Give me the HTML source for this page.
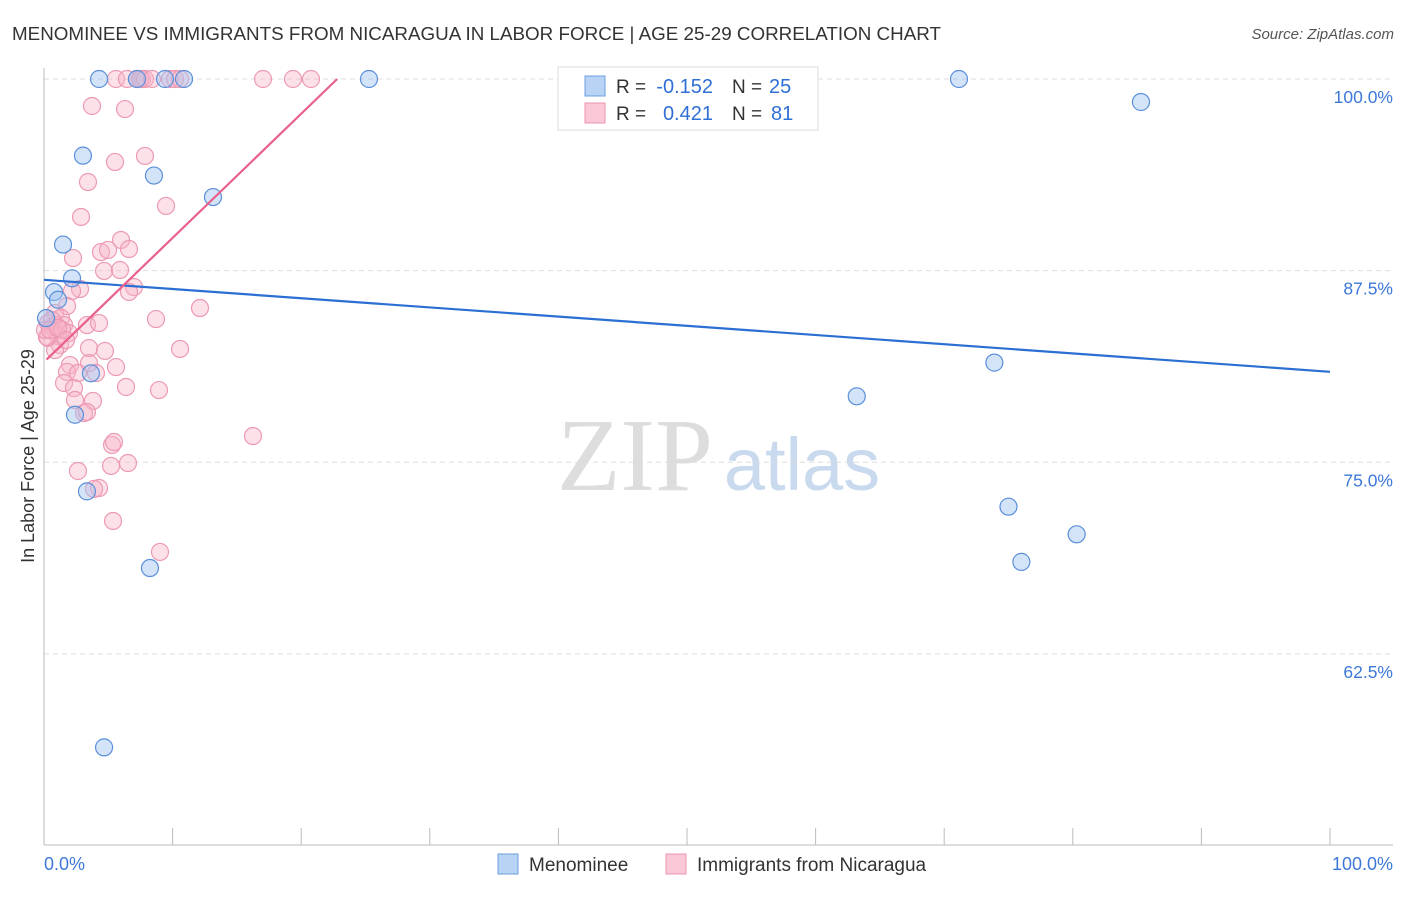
<!DOCTYPE html>
<html><head><meta charset="utf-8"><style>
body{margin:0;background:#fff;font-family:"Liberation Sans",sans-serif;}
</style></head><body>
<svg id="c" width="1406" height="892" xmlns="http://www.w3.org/2000/svg" font-family="Liberation Sans, sans-serif">
<text x="12" y="40" font-size="18" fill="#333" textLength="929" lengthAdjust="spacingAndGlyphs">MENOMINEE VS IMMIGRANTS FROM NICARAGUA IN LABOR FORCE | AGE 25-29 CORRELATION CHART</text>
<text x="1394" y="39" font-size="15" fill="#555" text-anchor="end" font-style="italic">Source: ZipAtlas.com</text>
<text x="34" y="456" font-size="18" fill="#333" text-anchor="middle" transform="rotate(-90 34 456)">In Labor Force | Age 25-29</text>
<g><text x="635" y="490" font-size="104" fill="#ddd" text-anchor="middle" font-family="Liberation Serif, serif">ZIP</text><text x="802" y="490" font-size="74" fill="#c9d9ee" text-anchor="middle">atlas</text></g>
<g id="grid"></g><g id="marks"></g>
<g>
<rect x="558" y="67" width="260" height="63" fill="#fff" stroke="#ddd"/>
<rect x="585" y="76" width="20" height="20" fill="#b9d3f5" stroke="#6d9fe0"/>
<rect x="585" y="103" width="20" height="20" fill="#fbc8d8" stroke="#ee94b0"/>
<text x="616" y="93" font-size="19" fill="#333">R =</text>
<text x="713" y="93" font-size="20" fill="#2f6fd6" text-anchor="end">-0.152</text>
<text x="732" y="93" font-size="19" fill="#333">N =</text>
<text x="769" y="93" font-size="20" fill="#2f6fd6">25</text>
<text x="616" y="120" font-size="19" fill="#333">R =</text>
<text x="713" y="120" font-size="20" fill="#2f6fd6" text-anchor="end">0.421</text>
<text x="732" y="120" font-size="19" fill="#333">N =</text>
<text x="771" y="120" font-size="20" fill="#2f6fd6">81</text>
</g>
<g>
<rect x="498" y="854" width="20" height="20" fill="#b9d3f5" stroke="#6d9fe0"/>
<text x="529" y="871" font-size="19" fill="#333">Menominee</text>
<rect x="666" y="854" width="20" height="20" fill="#fbc8d8" stroke="#ee94b0"/>
<text x="697" y="871" font-size="19" fill="#333">Immigrants from Nicaragua</text>
</g>
</svg>
<script>
const yTicks=[100,87.5,75,62.5];
const yTickLabels=["100.0%","87.5%","75.0%","62.5%"];
const xEndLabels=["0.0%","100.0%"];
const blueX=[4.28,7.23,9.41,10.89,25.27,71.15,85.3,3.03,8.55,13.14,1.48,2.18,0.78,1.09,3.65,2.41,3.34,8.24,4.67,63.2,73.9,75.0,80.3,76.0,0.16];
const blueY=[100,100,100,100,100,100,98.5,95.0,93.7,92.3,89.2,87.0,86.1,85.6,80.8,78.1,73.1,68.1,56.4,79.3,81.5,72.1,70.3,68.5,84.4];
const pinkPx=[[116,79],[127,79],[142,79],[137,79],[140,79],[145,79],[152,79],[170,79],[175,79],[180,79],[263,79],[293,79],[311,79],[92,106],[125,109],[115,162],[145,156],[88,182],[166,206],[81,217],[121,240],[101,252],[108,250],[129,249],[73,258],[104,271],[120,270],[80,289],[134,287],[72,291],[129,292],[200,308],[67,306],[55,313],[61,318],[48,323],[52,327],[56,325],[64,325],[87,325],[99,323],[156,319],[69,333],[58,336],[48,338],[60,345],[55,350],[180,349],[89,348],[105,351],[116,367],[89,363],[70,365],[67,372],[78,373],[96,373],[64,383],[126,387],[159,390],[74,388],[75,400],[93,401],[84,413],[87,412],[253,436],[112,445],[114,442],[111,466],[128,463],[78,471],[99,488],[94,489],[113,521],[160,552],[47,337],[52,320],[45,330],[50,330],[62,330],[58,328],[66,340]];
const pinkX=pinkPx.map(p=>+((p[0]-44)/12.86).toFixed(2));
const pinkY=pinkPx.map(p=>+(100-(p[1]-79)/15.33).toFixed(2));
const blueTrend=[[0,86.9],[100,80.9]];
const pinkTrend=[[0.2,81.7],[22.8,100]];
const X=v=>44+v*12.86, Y=v=>79+(100-v)*15.33;
const NS="http://www.w3.org/2000/svg";
function mk(t,a,p){const e=document.createElementNS(NS,t);for(const k in a)e.setAttribute(k,a[k]);p.appendChild(e);return e;}
const g=document.getElementById('grid'),m=document.getElementById('marks');
yTicks.forEach((t,i)=>{const l=mk('line',{x1:44,x2:1393,y1:Y(t),y2:Y(t),stroke:'#ddd','stroke-dasharray':'5,4'},g);


const tx=mk('text',{x:1393,y:Y(t)+24,'font-size':17.5,fill:'#3d78d8','text-anchor':'end'},g);tx.textContent=yTickLabels[i];

});
const ax=mk('line',{x1:44,x2:44,y1:68,y2:845,stroke:'#bbb'},g);


const bx=mk('line',{x1:44,x2:1393,y1:845,y2:845,stroke:'#bbb'},g);


for(let i=0;i<=10;i++){const t=mk('line',{x1:X(i*10),x2:X(i*10),y1:828,y2:845,stroke:'#bbb'},g);

}
[[0,'start'],[100,'end']].forEach((d,i)=>{const t=mk('text',{x:i?1393:44,y:870,'font-size':18,fill:'#3d78d8','text-anchor':d[1]},g);t.textContent=xEndLabels[i];

});
pinkX.forEach((x,i)=>{const c=mk('circle',{cx:X(x),cy:Y(pinkY[i]),r:8.5,fill:'rgba(248,180,200,0.4)',stroke:'#ec9ab3','stroke-width':1.2},m);

});
blueX.forEach((x,i)=>{const c=mk('circle',{cx:X(x),cy:Y(blueY[i]),r:8.5,fill:'rgba(160,195,240,0.45)',stroke:'#5b8fdb','stroke-width':1.2},m);

});
const bl=mk('line',{x1:X(blueTrend[0][0]),y1:Y(blueTrend[0][1]),x2:X(blueTrend[1][0]),y2:Y(blueTrend[1][1]),stroke:'#2b6fd3','stroke-width':2.2},m);


const pl=mk('line',{x1:X(pinkTrend[0][0]),y1:Y(pinkTrend[0][1]),x2:X(pinkTrend[1][0]),y2:Y(pinkTrend[1][1]),stroke:'#e8608c','stroke-width':2.2},m);


</script>
</body></html>
